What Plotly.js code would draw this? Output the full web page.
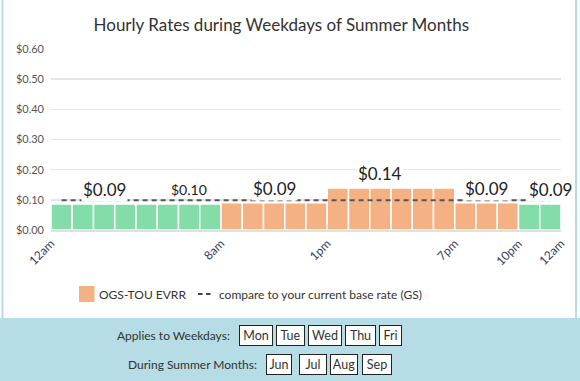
<!DOCTYPE html>
<html>
<head>
<meta charset="utf-8">
<script src="https://cdn.plot.ly/plotly-3.0.1.min.js"></script>
<style>
  html, body { margin: 0; padding: 0; background: #ffffff; }
  #chart { width: 580px; height: 381px; }
</style>
</head>
<body>
<div id="chart"></div>
<script>
// ---- data ----
const hours = [0,1,2,3,4,5,6,7,8,9,10,11,12,13,14,15,16,17,18,19,20,21,22,23];
const rates = [0.086,0.086,0.086,0.086,0.086,0.086,0.086,0.086,
               0.0905,0.0905,0.0905,0.0905,0.0905,
               0.139,0.139,0.139,0.139,0.139,0.139,
               0.0905,0.0905,0.0905,
               0.086,0.086];
const rateKinds = ['off','off','off','off','off','off','off','off',
                   'tou','tou','tou','tou','tou','tou','tou','tou','tou','tou','tou','tou','tou','tou',
                   'off','off'];
const baseRate = [0.099,0.099,0.099,0.099,0.099,0.099,0.099,0.099,0.099,0.099,0.099,0.099,
                  0.099,0.099,0.099,0.099,0.099,0.099,0.099,0.099,0.099,0.099,0.099,0.099];
const labelHours = [2, 10, 15, 20, 23];
const baseLabelHour = 6;
const tickHours = [0, 8, 13, 19, 22, 24];
const tickLabels = ['12am', '8am', '1pm', '7pm', '10pm', '12am'];
const yTicks = [0, 0.1, 0.2, 0.3, 0.4, 0.5, 0.6];
const weekdays = ['Mon', 'Tue', 'Wed', 'Thu', 'Fri'];
const months = ['Jun', 'Jul', 'Aug', 'Sep'];
const titleText = 'Hourly Rates during Weekdays of Summer Months';
const seriesName = 'OGS-TOU EVRR';
const baseName = 'compare to your current base rate (GS)';

// ---- styles ----
const GREEN = '#82dda9';
const ORANGE = '#f4b284';
const FONT = 'Lato, "Open Sans", sans-serif';
const TEXT = '#333333';
const BAND = '#b6dce6';

// pixel -> paper helpers (plot area: x 51..561, y 49..230)
const L = 51, W = 510, B = 230, H = 181;
const X = px => (px - L) / W;
const Y = py => (B - py) / H;

const fmt = v => '$' + v.toFixed(2);

const barTrace = {
  type: 'bar',
  x: hours.map(h => h + 0.5),
  y: rates,
  width: 1,
  marker: {
    color: rateKinds.map(k => k === 'tou' ? ORANGE : GREEN),
    line: { color: '#ffffff', width: 1.5 }
  },
  hoverinfo: 'skip',
  showlegend: false
};

const baseTrace = {
  type: 'scatter',
  mode: 'lines',
  x: hours.map(h => h + 0.5),
  y: baseRate,
  line: { color: '#555555', width: 2, dash: '5px,4px' },
  hoverinfo: 'skip',
  showlegend: false
};

const annotations = [];
// rate labels
labelHours.forEach(h => {
  annotations.push({
    xref: 'x', yref: 'y', x: h + 0.5, y: rates[h],
    text: fmt(rates[h]), showarrow: false,
    xanchor: 'center', yanchor: 'bottom', yshift: 2,
    bgcolor: '#ffffff', borderpad: 1,
    font: { family: FONT, size: 17, color: '#222222' }
  });
});
// base rate label
annotations.push({
  xref: 'x', yref: 'y', x: baseLabelHour + 0.5, y: baseRate[baseLabelHour],
  text: fmt(baseRate[baseLabelHour]), showarrow: false,
  xanchor: 'center', yanchor: 'bottom', yshift: 0,
  font: { family: FONT, size: 14, color: '#222222' }
});

// legend texts
annotations.push({
  xref: 'paper', yref: 'paper', x: X(97), y: Y(294), xanchor: 'left', yanchor: 'middle',
  text: seriesName, showarrow: false, font: { family: FONT, size: 12, color: TEXT }
});
annotations.push({
  xref: 'paper', yref: 'paper', x: X(217), y: Y(294), xanchor: 'left', yanchor: 'middle',
  text: baseName, showarrow: false, font: { family: FONT, size: 12, color: TEXT }
});

// band labels
annotations.push({
  xref: 'paper', yref: 'paper', x: X(232), y: Y(335.5), xanchor: 'right', yanchor: 'middle',
  text: 'Applies to Weekdays:', showarrow: false, font: { family: FONT, size: 12, color: TEXT }
});
annotations.push({
  xref: 'paper', yref: 'paper', x: X(259), y: Y(364.5), xanchor: 'right', yanchor: 'middle',
  text: 'During Summer Months:', showarrow: false, font: { family: FONT, size: 12, color: TEXT }
});

// boxes
const dayBoxes = [[239, 273], [276, 305], [308, 342], [345, 376], [379, 402]];
const monthBoxes = [[266, 292], [299, 327], [330, 358], [362, 392]];
function boxAnn(txt, x0, x1, y0, y1) {
  return {
    xref: 'paper', yref: 'paper', x: X((x0 + x1) / 2), y: Y((y0 + y1) / 2),
    xanchor: 'center', yanchor: 'middle', showarrow: false,
    text: txt, width: (x1 - x0) - 4, height: (y1 - y0) - 4,
    bgcolor: '#ffffff', bordercolor: '#222222', borderwidth: 1, borderpad: 1,
    font: { family: FONT, size: 12.5, color: TEXT }
  };
}
weekdays.forEach((d, i) => annotations.push(boxAnn(d, dayBoxes[i][0], dayBoxes[i][1], 325, 346)));
months.forEach((m, i) => annotations.push(boxAnn(m, monthBoxes[i][0], monthBoxes[i][1], 354, 375)));

const shapes = [
  // bottom band
  { type: 'rect', xref: 'paper', yref: 'paper', x0: X(0), x1: X(580), y0: Y(318), y1: Y(382),
    fillcolor: BAND, line: { width: 0 }, layer: 'below' },
  // container borders
  { type: 'line', xref: 'paper', yref: 'paper', x0: X(2.5), x1: X(2.5), y0: Y(0), y1: Y(318),
    line: { color: BAND, width: 2 } },
  { type: 'line', xref: 'paper', yref: 'paper', x0: X(576), x1: X(576), y0: Y(0), y1: Y(318),
    line: { color: BAND, width: 2 } },
  // legend symbols
  { type: 'rect', xref: 'paper', yref: 'paper', x0: X(79), x1: X(94.5), y0: Y(286), y1: Y(302),
    fillcolor: ORANGE, line: { width: 0 } },
  { type: 'line', xref: 'paper', yref: 'paper', x0: X(198), x1: X(202.5), y0: Y(294), y1: Y(294),
    line: { color: '#444444', width: 2 } },
  { type: 'line', xref: 'paper', yref: 'paper', x0: X(206), x1: X(210.5), y0: Y(294), y1: Y(294),
    line: { color: '#444444', width: 2 } }
];

const layout = {
  width: 580, height: 381,
  margin: { l: L, r: 580 - L - W, t: 49, b: 381 - B },
  paper_bgcolor: '#ffffff', plot_bgcolor: '#ffffff',
  showlegend: false,
  title: {
    text: titleText, xref: 'container', x: 0.485, y: 1 - 25 / 381, yanchor: 'middle',
    font: { family: FONT, size: 17, color: TEXT }
  },
  bargap: 0,
  xaxis: {
    range: [0, 24], tickvals: tickHours, ticktext: tickLabels, tickangle: -45,
    showgrid: false, zeroline: false, showline: true, linecolor: 'rgba(0,0,0,0.12)', linewidth: 2,
    layer: 'above traces',
    tickfont: { family: FONT, size: 12, color: '#33406a' }, fixedrange: true
  },
  yaxis: {
    range: [0, 0.6], tickvals: yTicks, ticktext: yTicks.map(v => '$' + v.toFixed(2)),
    showgrid: true, gridcolor: '#e6e6e6', gridwidth: 1.5, zeroline: false,
    tickfont: { family: FONT, size: 11, color: '#555555' }, ticklabelstandoff: 6, fixedrange: true
  },
  annotations: annotations,
  shapes: shapes
};

Plotly.newPlot('chart', [barTrace, baseTrace], layout, { displayModeBar: false, staticPlot: true });
</script>
</body>
</html>
